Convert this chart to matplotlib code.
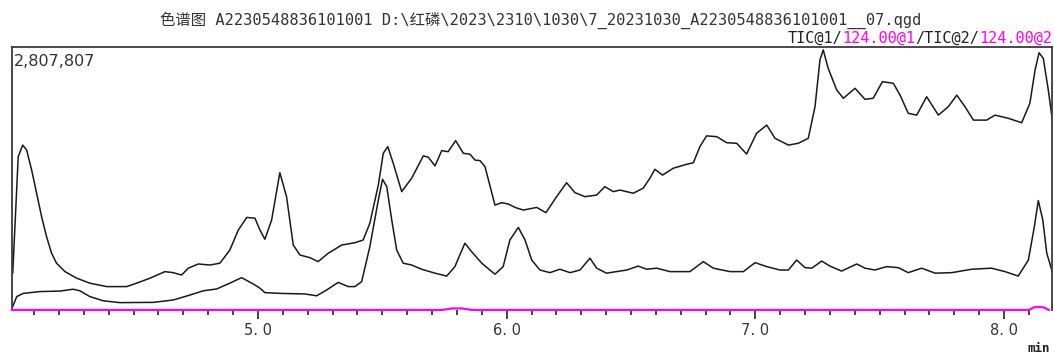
import matplotlib.pyplot as plt
import numpy as np

FULL_SCALE = 2807807

# TIC@1 trace: retention time (min) and percent of full scale
tic1_time = [4.014, 4.036, 4.054, 4.070, 4.090, 4.110, 4.130, 4.150, 4.170, 4.190,
             4.224, 4.271, 4.324, 4.392, 4.472, 4.512, 4.566, 4.626, 4.659, 4.693,
             4.720, 4.760, 4.807, 4.847, 4.887, 4.921, 4.955, 4.988, 5.008, 5.028,
             5.055, 5.088, 5.115, 5.142, 5.169, 5.209, 5.242, 5.283, 5.337, 5.390,
             5.423, 5.450, 5.484, 5.504, 5.522, 5.544, 5.578, 5.618, 5.665, 5.685,
             5.712, 5.739, 5.765, 5.795, 5.826, 5.853, 5.873, 5.893, 5.913, 5.953,
             5.980, 6.007, 6.034, 6.067, 6.121, 6.158, 6.201, 6.241, 6.275, 6.315,
             6.362, 6.395, 6.429, 6.456, 6.509, 6.549, 6.576, 6.596, 6.627, 6.670,
             6.724, 6.751, 6.777, 6.804, 6.845, 6.885, 6.925, 6.965, 7.005, 7.046,
             7.079, 7.133, 7.173, 7.213, 7.240, 7.260, 7.273, 7.293, 7.327, 7.354,
             7.401, 7.441, 7.474, 7.511, 7.555, 7.582, 7.615, 7.649, 7.689, 7.736,
             7.776, 7.810, 7.843, 7.877, 7.930, 7.964, 8.017, 8.071, 8.104, 8.125,
             8.141, 8.158, 8.178, 8.198]
tic1_pct = [14.0, 58.3, 62.7, 60.8, 53.2, 44.4, 35.5, 27.9, 21.6, 17.8,
            14.6, 12.1, 10.2, 8.9, 8.9, 10.2, 12.1, 14.6, 14.2, 13.3,
            15.9, 17.5, 17.1, 17.8, 22.8, 30.4, 35.2, 34.9, 30.4, 26.9,
            34.2, 52.2, 43.1, 24.7, 20.9, 19.9, 18.4, 21.6, 24.7, 25.6,
            26.6, 33.0, 47.5, 59.6, 62.1, 55.8, 45.0, 50.1, 58.6, 58.1,
            54.8, 60.6, 60.2, 64.4, 59.6, 59.2, 57.0, 56.8, 54.5, 39.9,
            40.8, 40.3, 39.0, 38.0, 39.0, 37.0, 43.1, 48.4, 44.6, 43.1,
            43.7, 46.9, 45.0, 45.6, 44.4, 46.3, 50.1, 53.5, 51.3, 53.9,
            55.4, 56.0, 62.1, 66.2, 65.9, 63.6, 63.4, 59.3, 67.2, 70.3,
            65.3, 62.7, 63.4, 65.3, 77.3, 95.1, 98.9, 91.9, 83.7, 80.5,
            84.3, 80.1, 80.5, 86.8, 86.2, 81.7, 74.8, 74.1, 81.1, 74.1,
            77.3, 81.7, 77.3, 72.2, 72.2, 74.1, 72.9, 71.2, 78.6, 91.3,
            97.8, 95.7, 83.7, 69.7]

# TIC@2 trace
tic2_time = [4.014, 4.030, 4.056, 4.123, 4.204, 4.257, 4.284, 4.324, 4.378, 4.445,
             4.579, 4.659, 4.727, 4.780, 4.834, 4.887, 4.934, 4.981, 5.008, 5.028,
             5.095, 5.189, 5.236, 5.276, 5.323, 5.363, 5.390, 5.417, 5.450, 5.484,
             5.501, 5.518, 5.538, 5.558, 5.584, 5.618, 5.658, 5.712, 5.759, 5.792,
             5.832, 5.859, 5.900, 5.953, 5.986, 6.013, 6.047, 6.074, 6.101, 6.134,
             6.174, 6.214, 6.255, 6.295, 6.335, 6.362, 6.402, 6.442, 6.483, 6.529,
             6.563, 6.603, 6.657, 6.737, 6.791, 6.831, 6.898, 6.952, 6.999, 7.046,
             7.099, 7.133, 7.166, 7.200, 7.227, 7.267, 7.300, 7.347, 7.408, 7.441,
             7.481, 7.528, 7.575, 7.615, 7.669, 7.723, 7.790, 7.870, 7.950, 8.004,
             8.057, 8.098, 8.122, 8.138, 8.156, 8.172, 8.194]
tic2_pct = [1.3, 5.1, 6.3, 7.0, 7.2, 7.9, 7.3, 5.1, 3.5, 2.8,
            2.9, 3.8, 5.7, 7.3, 8.0, 10.2, 12.3, 9.9, 8.3, 6.6,
            6.3, 6.1, 5.4, 7.6, 10.5, 8.9, 8.9, 10.8, 24.1, 41.8,
            49.7, 46.9, 34.2, 22.8, 17.8, 17.1, 15.5, 14.0, 12.9, 16.5,
            25.4, 22.2, 17.8, 13.6, 16.5, 26.6, 31.4, 26.6, 19.0, 15.2,
            14.2, 15.5, 14.2, 15.2, 19.7, 15.9, 14.0, 14.6, 15.2, 16.7,
            15.5, 15.9, 14.6, 14.6, 18.4, 15.9, 14.6, 14.6, 18.0, 16.5,
            15.2, 15.2, 19.0, 16.1, 15.9, 18.6, 16.7, 14.8, 17.5, 15.9,
            15.2, 16.5, 16.1, 14.2, 15.9, 14.0, 14.2, 15.5, 15.9, 14.6,
            12.9, 19.0, 31.7, 41.6, 34.2, 21.6, 14.6]

# m/z 124.00 trace
ion_time = [4.011, 5.74, 5.78, 5.82, 5.86, 8.10, 8.12, 8.14, 8.16, 8.18]
ion_pct = [0.0, 0.0, 0.6, 0.6, 0.0, 0.0, 1.0, 1.2, 1.0, 0.0]

major_ticks = [5.0, 6.0, 7.0, 8.0]
title = "色谱图 A2230548836101001 D:\\红磷\\2023\\2310\\1030\\7_20231030_A2230548836101001__07.qgd"
trace_labels = [("TIC@1/", "#222222"), ("124.00@1", "#ff00ff"),
                ("/TIC@2/", "#222222"), ("124.00@2", "#ff00ff")]

mono = ["DejaVu Sans Mono", "Noto Sans CJK SC"]

fig = plt.figure(figsize=(10.54, 3.56), dpi=100)
ax = fig.add_axes([12 / 1054, 46 / 356, 1040 / 1054, 263 / 356])

scale = FULL_SCALE / 100.0
line_kw = dict(color="#1a1a1a", lw=1.1, solid_joinstyle="round", solid_capstyle="round")
ax.plot(tic1_time, np.array(tic1_pct) * scale, **line_kw)
ax.plot(tic2_time, np.array(tic2_pct) * scale, **line_kw)
ax.plot(ion_time, np.array(ion_pct) * scale, color="#ff00ff", lw=1.6,
        clip_on=False, zorder=3)

ax.set_xlim(4.011, 8.193)
ax.set_ylim(0, FULL_SCALE)

for side in ["top", "left", "right"]:
    ax.spines[side].set_color("#3a3a3a")
    ax.spines[side].set_linewidth(1.3)
ax.spines["bottom"].set_visible(False)

ax.set_yticks([])
ax.set_xticks(major_ticks)
ax.set_xticks(np.arange(4.1, 8.2, 0.1), minor=True)
ax.set_xticklabels([f"{v:.1f}".replace(".", ". ") for v in major_ticks],
                   fontsize=10.5, color="#2f3545")
ax.tick_params(axis="x", which="major", length=6.5, width=1.1, pad=3, color="#111111")
ax.tick_params(axis="x", which="minor", length=3.6, width=1.1, color="#111111")

ax.text(0.002, 0.975, f"{FULL_SCALE:,}", transform=ax.transAxes, ha="left", va="top",
        fontsize=11.5, color="#333333")

fig.text(541 / 1054, 1 - 20 / 356, title, ha="center", va="center",
         family=mono, fontsize=11.1, color="#333333")

# trace names above the plot, right-aligned, laid out piece by piece
renderer = fig.canvas.get_renderer()
x_px = 1052
for txt, col in reversed(trace_labels):
    t = fig.text(x_px / 1054, 1 - 38 / 356, txt, ha="right", va="center",
                 family=mono, fontsize=11, color=col)
    x_px -= t.get_window_extent(renderer).width

fig.text(1050 / 1054, 1 - 349 / 356, "min", ha="right", va="center",
         family=mono, fontsize=9, color="#222222", fontweight="bold")

fig.savefig("out.png", dpi=100)
